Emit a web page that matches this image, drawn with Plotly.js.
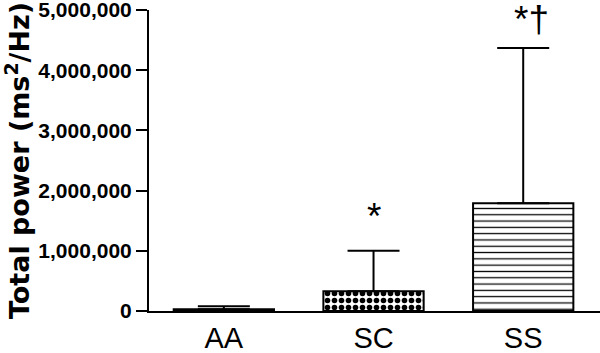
<!DOCTYPE html>
<html>
<head>
<meta charset="utf-8">
<script src="https://cdn.plot.ly/plotly-3.0.1.min.js"></script>
<style>html,body{margin:0;padding:0;background:#fff;}#chart{width:600px;height:353px;}</style>
</head>
<body>
<div id="chart"></div>
<script>
// Data
var groups = ["AA", "SC", "SS"];
var meanPower = [30000, 330000, 1790000];
var sdPower = [50000, 670000, 2580000];
var sigLabels = ["", "*", "*\u2020"];
var yTickVals = [0, 1000000, 2000000, 3000000, 4000000, 5000000];

var patterns = [
  {shape: "", fgcolor: "black", bgcolor: "white"},
  {shape: ".", size: 7, solidity: 0.5, fgcolor: "black", bgcolor: "white", fillmode: "replace"},
  {shape: "-", size: 6.3, solidity: 0.2, fgcolor: "black", bgcolor: "white", fillmode: "replace"}
];

var traces = groups.map(function (g, i) {
  return {
    type: "bar",
    x: [g],
    y: [meanPower[i]],
    width: 0.67,
    marker: {
      color: i === 0 ? "black" : "white",
      line: {color: "black", width: 2},
      pattern: patterns[i]
    },
    error_y: {
      type: "data",
      symmetric: false,
      array: [sdPower[i]],
      arrayminus: [0],
      color: "black",
      thickness: 2,
      width: 26
    },
    showlegend: false,
    hoverinfo: "skip"
  };
});

var annotations = [];
groups.forEach(function (g, i) {
  if (!sigLabels[i]) return;
  annotations.push({
    x: g,
    y: meanPower[i] + sdPower[i],
    xref: "x",
    yref: "y",
    text: sigLabels[i],
    showarrow: false,
    yanchor: "bottom",
    xshift: i === 2 ? 8 : 0,
    yshift: i === 2 ? 6 : 12,
    font: {family: "Liberation Sans, Arial, sans-serif", size: 37, color: "black"}
  });
});

var layout = {
  width: 600,
  height: 353,
  margin: {l: 149, r: 0, t: 10, b: 42, pad: 0},
  paper_bgcolor: "white",
  plot_bgcolor: "white",
  xaxis: {
    type: "category",
    range: [-0.5, 2.513],
    showline: true,
    linecolor: "black",
    linewidth: 2,
    ticks: "",
    showgrid: false,
    zeroline: false,
    tickfont: {family: "Liberation Sans, Arial, sans-serif", size: 29, color: "black"},
    ticklabelstandoff: 0
  },
  yaxis: {
    range: [0, 5000000],
    tickvals: yTickVals,
    tickformat: ",d",
    showline: true,
    linecolor: "black",
    linewidth: 2,
    ticks: "outside",
    ticklen: 11,
    tickwidth: 2,
    tickcolor: "black",
    showgrid: false,
    zeroline: false,
    ticklabeloverflow: "allow",
    ticklabelstandoff: 0,
    tickfont: {family: "Liberation Sans, Arial, sans-serif", size: 21, color: "black", weight: "bold"},
    title: {
      text: "Total power (ms<sup>2</sup>/Hz)",
      font: {family: "DejaVu Sans, sans-serif", size: 27, color: "black", weight: "bold"},
      standoff: 13
    }
  },
  annotations: annotations
};

Plotly.newPlot("chart", traces, layout, {displayModeBar: false, staticPlot: true});
</script>
</body>
</html>
